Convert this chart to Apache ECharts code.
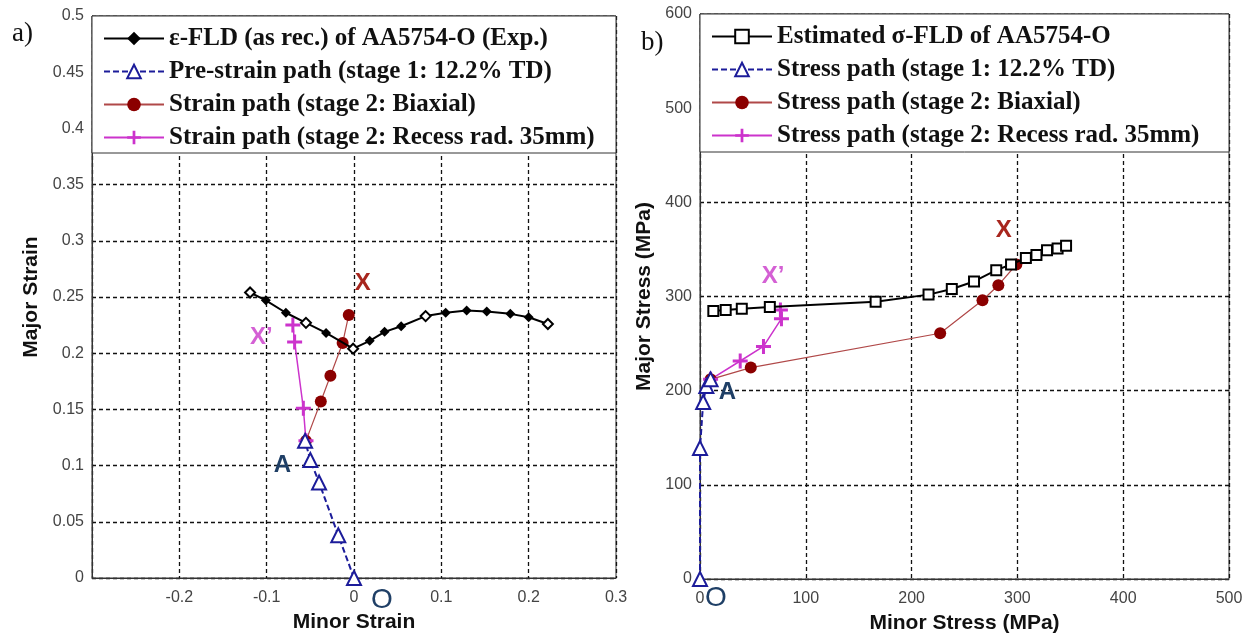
<!DOCTYPE html>
<html lang="en">
<head>
<meta charset="UTF-8">
<title>AA5754-O strain / stress FLD</title>
<style>html,body{margin:0;padding:0;background:#fff}</style>
</head>
<body>
<div id="main" style="width:1255px;height:639px"></div>
<script src="https://cdn.jsdelivr.net/npm/echarts@6/dist/echarts.min.js"></script>
<script>
// a) strain space: [minor, major]
var fldStrain = [[-0.119,0.254],[-0.101,0.247],[-0.078,0.236],[-0.055,0.227],[-0.032,0.218],
  [-0.001,0.204],[0.018,0.211],[0.035,0.219],[0.054,0.224],[0.082,0.233],[0.105,0.236],
  [0.129,0.238],[0.152,0.237],[0.179,0.235],[0.200,0.232],[0.222,0.226]];
var preStrain = [[0,0],[-0.018,0.038],[-0.040,0.085],[-0.050,0.105],[-0.056,0.122]];
var biaxStrain = [[-0.055,0.122],[-0.038,0.157],[-0.027,0.180],[-0.013,0.209],[-0.006,0.234]];
var recessStrain = [[-0.055,0.122],[-0.058,0.151],[-0.068,0.210],[-0.070,0.225]];

// b) stress space (MPa): [minor, major]
var fldStress = [[12.6,284.5],[24.3,285.6],[39.5,287],[66,288.8],[166,294.5],[216,302],[238,308],
  [259,316],[280,328],[294,334],[308,341],[318,344],[328,349],[338,351],[346,354]];
var preStress = [[0,0],[0,139],[3,188],[6,205],[10,212]];
var biaxStress = [[10,212],[48,224.5],[227,261],[267,296],[282,312],[299,334]];
var recessStress = [[10,212],[38,231.5],[60,247],[77,276.5],[76,285.6]];

// axis ranges [min, max, step]
var strainX = [-0.3, 0.3, 0.1];
var strainY = [0, 0.5, 0.05];
var stressX = [0, 500, 100];
var stressY = [0, 600, 100];

// which FLD diamonds are drawn open in panel a
var openDiamonds = [0, 3, 5, 9, 15];

// point labels: [text, gridIndex, x, y, color]
var notes = [
  ['X', 0, 0.010, 0.262, '#a8261e'],
  ["X\u2019", 0, -0.106, 0.214, '#d460d4'],
  ['A', 0, -0.082, 0.100, '#1f3f66'],
  ['O', 0, 0.032, -0.020, '#1f3f66'],
  ["X\u2019", 1, 69, 321, '#d460d4'],
  ['X', 1, 287, 370, '#a8261e'],
  ['A', 1, 26, 198, '#1f3f66'],
  ['O', 1, 15, -21, '#1f3f66']
];

var G = [
  {left: 92, top: 16, width: 524, height: 562},
  {left: 700, top: 14, width: 529, height: 566}
];
var boxH = [137, 138];

var black = '#000', navy = '#1c1c9a', darkRed = '#8b0000', redLine = '#b04848', magenta = '#cc33cc';
var plusPath = 'path://M4,0h2v10h-2zM0,4h10v2h-10z';

function xAxis(i, r, showMin) {
  return {
    type: 'value', gridIndex: i, min: r[0], max: r[1], interval: r[2],
    name: i === 0 ? 'Minor Strain' : 'Minor Stress (MPa)',
    nameLocation: 'middle', nameGap: 34,
    nameTextStyle: {fontFamily: 'Liberation Sans', fontWeight: 'bold', fontSize: 21, color: '#111'},
    axisLine: {show: true, onZero: false, lineStyle: {color: '#333', width: 1}},
    axisTick: {show: false},
    axisLabel: {showMinLabel: showMin, margin: 12, fontFamily: 'Liberation Sans', fontSize: 16, color: '#444',
      formatter: function (v) { return +v.toFixed(2) + ''; }},
    splitLine: {show: true, lineStyle: {color: '#111', type: [4, 3], width: 1.3}}
  };
}
function yAxis(i, r) {
  return {
    type: 'value', gridIndex: i, min: r[0], max: r[1], interval: r[2],
    name: i === 0 ? 'Major Strain' : 'Major Stress (MPa)',
    nameLocation: 'middle', nameGap: i === 0 ? 50 : 45,
    nameTextStyle: {fontFamily: 'Liberation Sans', fontWeight: 'bold', fontSize: 21, color: '#111'},
    axisLine: {show: true, onZero: false, lineStyle: {color: '#333', width: 1}},
    axisTick: {show: false},
    axisLabel: {margin: 8, fontFamily: 'Liberation Sans', fontSize: 16, color: '#444',
      formatter: function (v) { return +v.toFixed(2) + ''; }},
    splitLine: {show: true, lineStyle: {color: '#111', type: [4, 3], width: 1.3}}
  };
}

function legend(i, names) {
  return {
    orient: 'vertical', left: G[i].left + 6, top: G[i].top + 5, z: 100,
    itemWidth: 60, itemHeight: 17, itemGap: 8, selectedMode: false,
    textStyle: {fontFamily: 'Liberation Serif', fontWeight: 'bold', fontSize: 25, color: '#111', lineHeight: 25},
    data: names
  };
}

var names0 = ['\u03b5-FLD (as rec.) of AA5754-O (Exp.)', 'Pre-strain path (stage 1: 12.2% TD)',
  'Strain path (stage 2: Biaxial)', 'Strain path (stage 2: Recess rad. 35mm)'];
var names1 = ['Estimated \u03c3-FLD of AA5754-O', 'Stress path (stage 1: 12.2% TD)',
  'Stress path (stage 2: Biaxial)', 'Stress path (stage 2: Recess rad. 35mm)'];

function fldItems(d) {
  return d.map(function (p, k) {
    return openDiamonds.indexOf(k) >= 0 ? {value: p, symbol: 'emptyDiamond'} : p;
  });
}

function fourSeries(i, names, d) {
  return [
    {name: names[0], type: 'line', xAxisIndex: i, yAxisIndex: i, data: d[0], z: 3,
      symbol: i === 0 ? 'diamond' : 'emptyRect', symbolSize: 10,
      itemStyle: {color: black, borderWidth: i === 0 ? 1.5 : 1.8}, lineStyle: {color: black, width: 2}},
    {name: names[1], type: 'line', xAxisIndex: i, yAxisIndex: i, data: d[1], z: 4,
      symbol: 'emptyTriangle', symbolSize: 14,
      itemStyle: {color: navy, borderWidth: 1.6}, lineStyle: {color: navy, width: 2, type: [6, 3]}},
    {name: names[2], type: 'line', xAxisIndex: i, yAxisIndex: i, data: d[2], z: 2,
      symbol: 'circle', symbolSize: 12,
      itemStyle: {color: darkRed}, lineStyle: {color: redLine, width: 1.2}},
    {name: names[3], type: 'line', xAxisIndex: i, yAxisIndex: i, data: d[3], z: 2,
      symbol: plusPath, symbolSize: 15,
      itemStyle: {color: magenta}, lineStyle: {color: magenta, width: 1.5}}
  ];
}

var graphics = [];
[0, 1].forEach(function (i) {
  graphics.push({type: 'rect', z: 50, silent: true,
    shape: {x: G[i].left, y: G[i].top, width: G[i].width, height: boxH[i]},
    style: {fill: '#fff', stroke: '#333', lineWidth: 1}});
});
graphics.push({type: 'text', left: 12, top: 20, z: 50,
  style: {text: 'a)', font: '27px "Liberation Serif"', fill: '#111'}});
graphics.push({type: 'text', left: 641, top: 29, z: 50,
  style: {text: 'b)', font: '27px "Liberation Serif"', fill: '#111'}});

var chart = echarts.init(document.getElementById('main'));
chart.setOption({
  animation: false,
  backgroundColor: '#fff',
  grid: G.map(function (g) {
    return {left: g.left, top: g.top, width: g.width, height: g.height,
      show: true, borderColor: '#333', borderWidth: 1, backgroundColor: 'transparent'};
  }),
  xAxis: [xAxis(0, strainX, false), xAxis(1, stressX, true)],
  yAxis: [yAxis(0, strainY), yAxis(1, stressY)],
  legend: [legend(0, names0), legend(1, names1)],
  graphic: graphics,
  series: fourSeries(0, names0, [fldItems(fldStrain), preStrain, biaxStrain, recessStrain])
    .concat(fourSeries(1, names1, [fldStress, preStress, biaxStress, recessStress]))
});

// point labels placed through the axes
notes.forEach(function (n) {
  var p = chart.convertToPixel({xAxisIndex: n[1], yAxisIndex: n[1]}, [n[2], n[3]]);
  var isO = n[0] === 'O';
  graphics.push({type: 'text', x: p[0], y: p[1], z: 60, silent: true,
    style: {text: n[0], fill: n[4], align: 'center', verticalAlign: 'middle',
      font: (isO ? 'normal 28px' : 'bold 24px') + ' "Liberation Sans"'}});
});
chart.setOption({graphic: graphics});
</script>
</body>
</html>
